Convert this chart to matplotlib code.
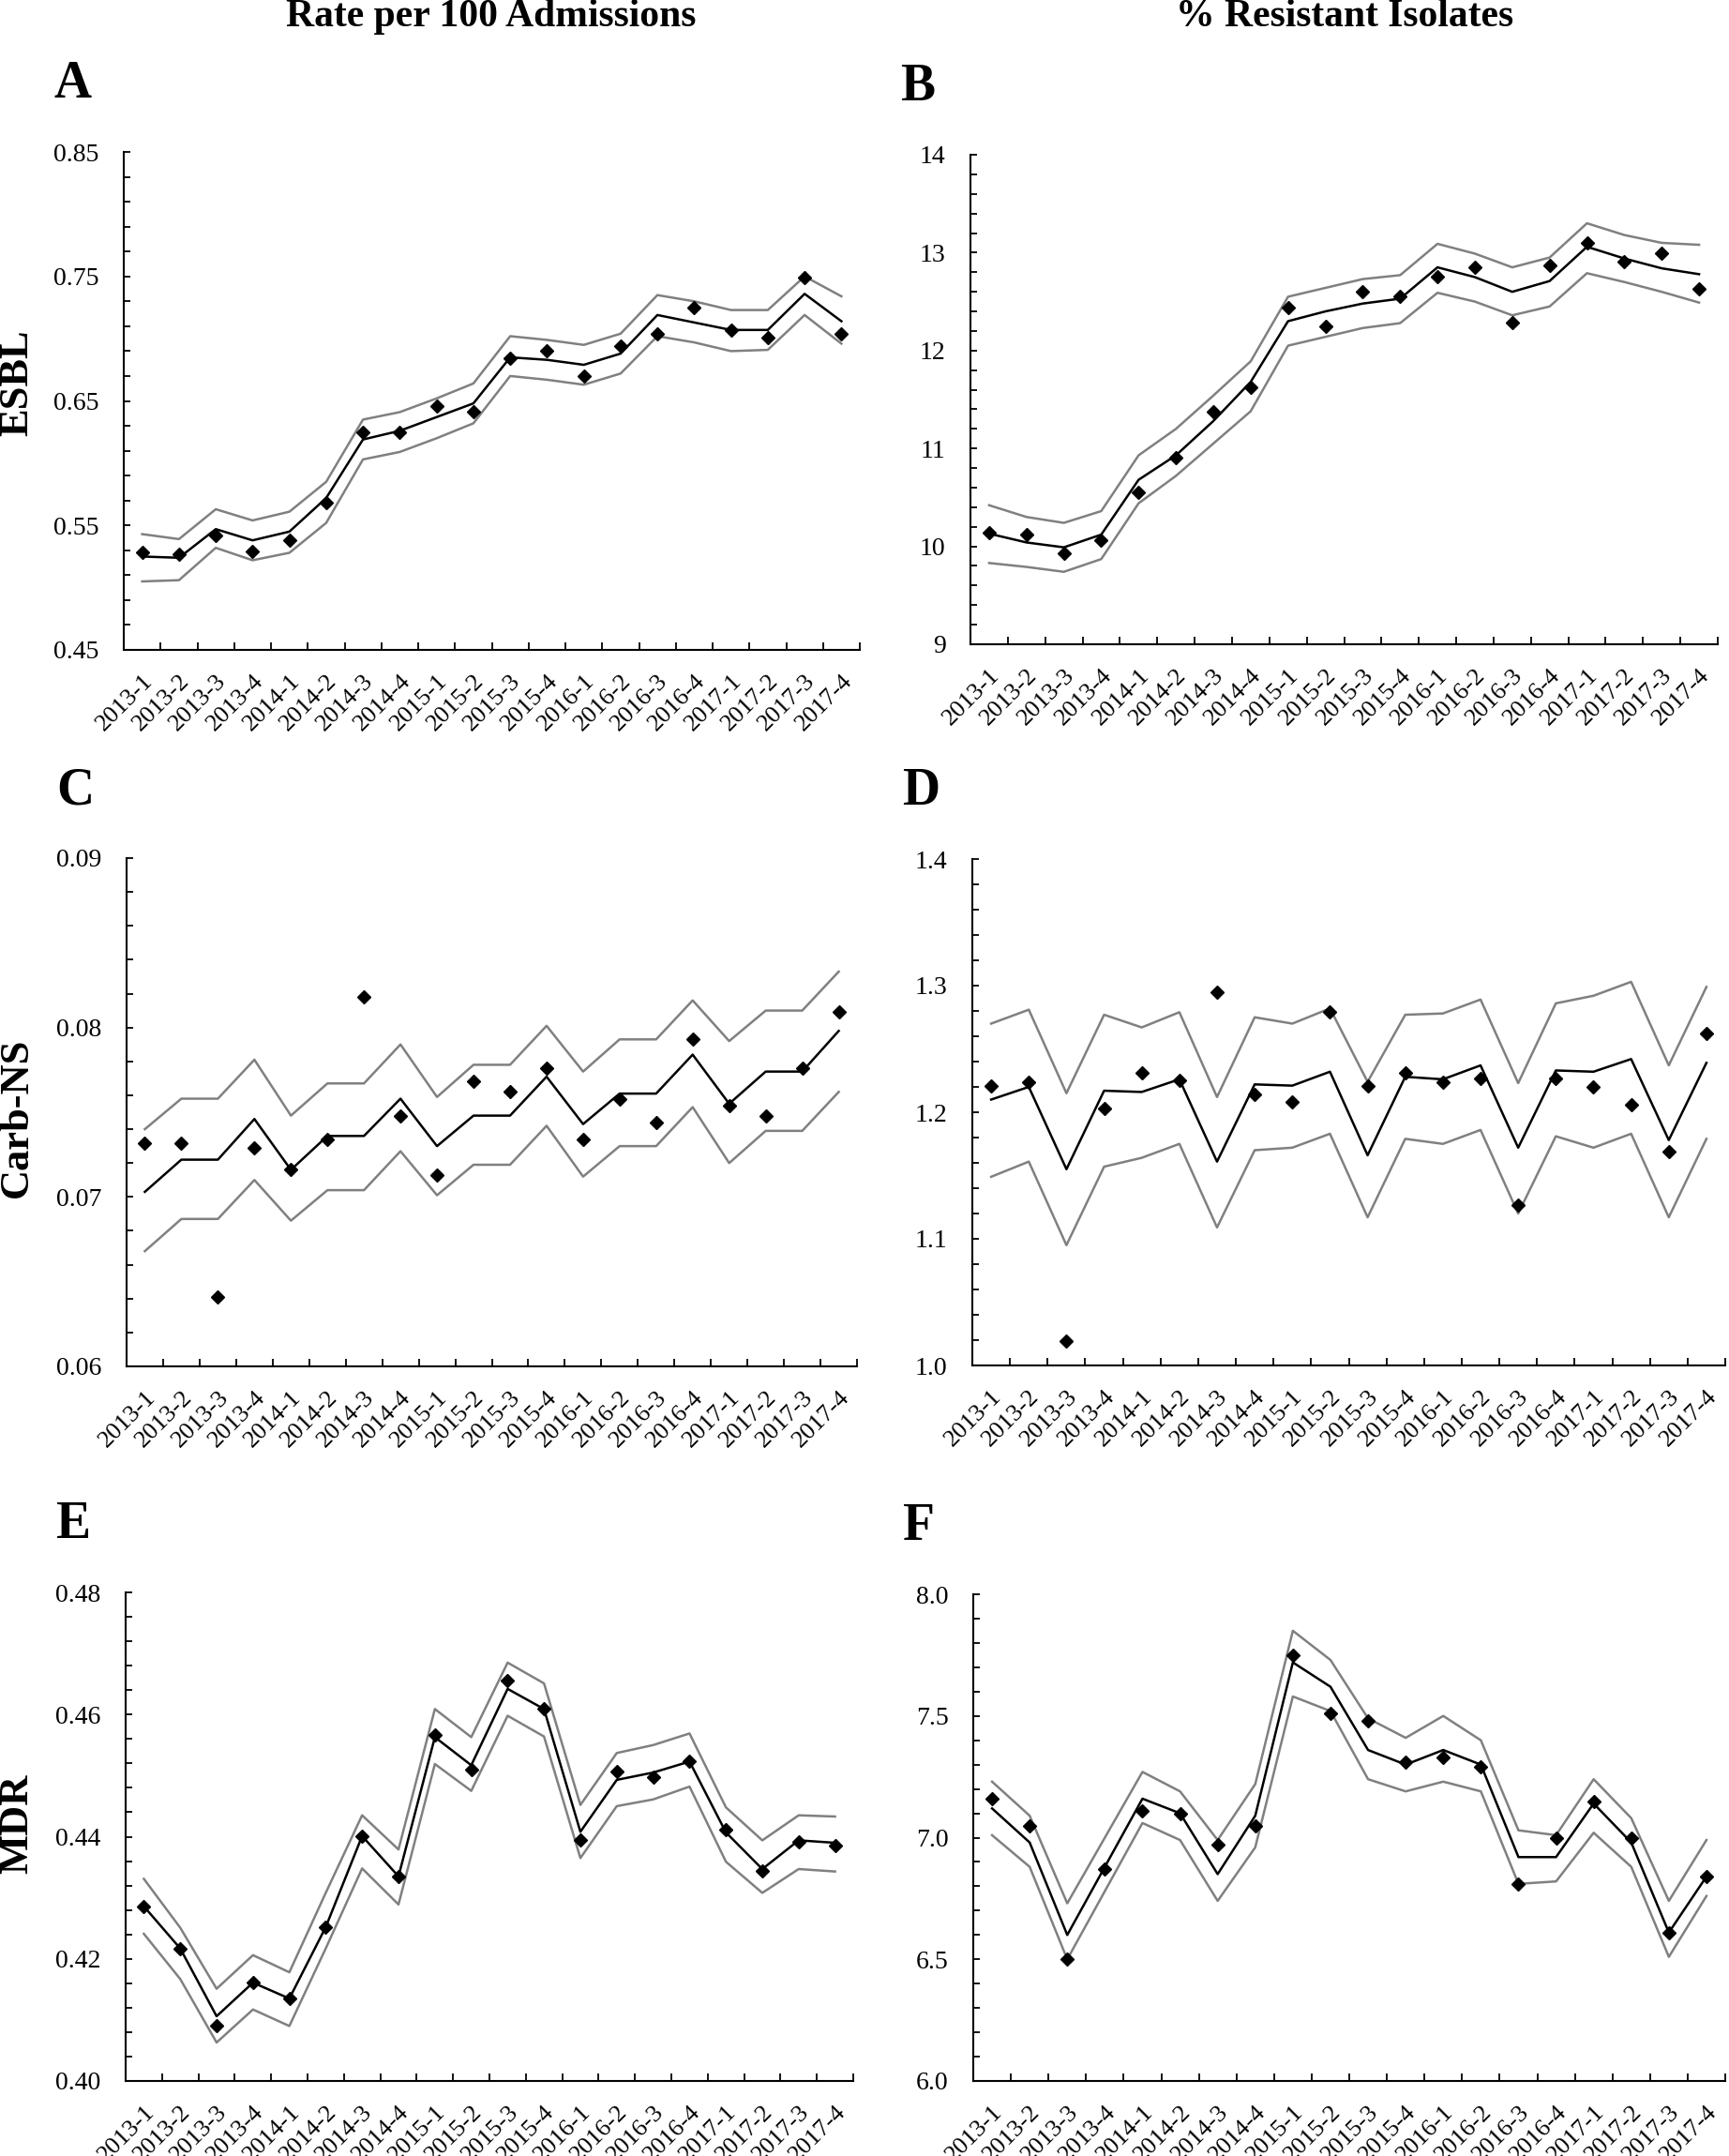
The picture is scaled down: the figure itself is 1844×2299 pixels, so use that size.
import matplotlib
matplotlib.use("Agg")
import numpy as np
import matplotlib.pyplot as plt
from matplotlib.ticker import FormatStrFormatter

plt.rcParams['font.family'] = ['Liberation Serif', 'DejaVu Serif']

quarters = ['2013-1', '2013-2', '2013-3', '2013-4', '2014-1', '2014-2', '2014-3', '2014-4',
            '2015-1', '2015-2', '2015-3', '2015-4', '2016-1', '2016-2', '2016-3', '2016-4',
            '2017-1', '2017-2', '2017-3', '2017-4']

# A - ESBL, rate per 100 admissions
esbl_rate_obs = [0.528, 0.527, 0.542, 0.529, 0.538, 0.568, 0.625, 0.625, 0.646, 0.641,
                 0.684, 0.690, 0.670, 0.694, 0.704, 0.725, 0.707, 0.701, 0.749, 0.704]
esbl_rate_fit = [0.525, 0.524, 0.547, 0.538, 0.545, 0.572, 0.619, 0.626, 0.637, 0.648,
                 0.685, 0.683, 0.679, 0.688, 0.719, 0.713, 0.707, 0.707, 0.736, 0.714]
esbl_rate_hi = [0.543, 0.539, 0.563, 0.554, 0.561, 0.585, 0.635, 0.641, 0.652, 0.664,
                0.702, 0.699, 0.695, 0.704, 0.735, 0.730, 0.723, 0.723, 0.750, 0.734]
esbl_rate_lo = [0.505, 0.506, 0.532, 0.522, 0.528, 0.552, 0.603, 0.609, 0.620, 0.632,
                0.670, 0.667, 0.663, 0.672, 0.702, 0.697, 0.690, 0.691, 0.719, 0.696]

# B - ESBL, % resistant isolates
esbl_pct_obs = [10.14, 10.12, 9.93, 10.06, 10.55, 10.91, 11.38, 11.62, 12.44, 12.25,
                12.60, 12.55, 12.75, 12.85, 12.29, 12.87, 13.10, 12.91, 12.99, 12.63]
esbl_pct_fit = [10.13, 10.04, 9.99, 10.12, 10.68, 10.93, 11.28, 11.68, 12.30, 12.40,
                12.48, 12.53, 12.85, 12.75, 12.60, 12.71, 13.06, 12.94, 12.84, 12.78]
esbl_pct_hi = [10.42, 10.30, 10.24, 10.36, 10.93, 11.20, 11.54, 11.89, 12.55, 12.64,
               12.73, 12.77, 13.09, 12.99, 12.85, 12.95, 13.30, 13.18, 13.10, 13.08]
esbl_pct_lo = [9.83, 9.79, 9.74, 9.87, 10.44, 10.72, 11.05, 11.38, 12.05, 12.14,
               12.23, 12.28, 12.59, 12.50, 12.36, 12.45, 12.79, 12.70, 12.60, 12.49]

# C - Carb-NS, rate per 100 admissions
carb_rate_obs = [0.0732, 0.0732, 0.0641, 0.0729, 0.0716, 0.0734, 0.0818, 0.0748, 0.0713, 0.0768,
                 0.0762, 0.0776, 0.0734, 0.0758, 0.0744, 0.0793, 0.0754, 0.0748, 0.0776, 0.0809]
carb_rate_fit = [0.0703, 0.0722, 0.0722, 0.0746, 0.0716, 0.0736, 0.0736, 0.0758, 0.0730, 0.0748,
                 0.0748, 0.0771, 0.0743, 0.0761, 0.0761, 0.0784, 0.0755, 0.0774, 0.0774, 0.0798]
carb_rate_hi = [0.0740, 0.0758, 0.0758, 0.0781, 0.0748, 0.0767, 0.0767, 0.0790, 0.0759, 0.0778,
                0.0778, 0.0801, 0.0774, 0.0793, 0.0793, 0.0816, 0.0792, 0.0810, 0.0810, 0.0833]
carb_rate_lo = [0.0668, 0.0687, 0.0687, 0.0710, 0.0686, 0.0704, 0.0704, 0.0727, 0.0701, 0.0719,
                0.0719, 0.0742, 0.0712, 0.0730, 0.0730, 0.0753, 0.0720, 0.0739, 0.0739, 0.0762]

# D - Carb-NS, % resistant isolates
carb_pct_obs = [1.221, 1.224, 1.019, 1.203, 1.231, 1.225, 1.295, 1.214, 1.208, 1.279,
                1.221, 1.231, 1.224, 1.227, 1.127, 1.227, 1.220, 1.206, 1.169, 1.262]
carb_pct_fit = [1.210, 1.220, 1.155, 1.217, 1.216, 1.226, 1.161, 1.222, 1.221, 1.232,
                1.166, 1.228, 1.226, 1.237, 1.172, 1.233, 1.232, 1.242, 1.178, 1.239]
carb_pct_hi = [1.270, 1.281, 1.215, 1.277, 1.267, 1.279, 1.212, 1.275, 1.270, 1.282,
               1.224, 1.277, 1.278, 1.289, 1.223, 1.286, 1.292, 1.303, 1.237, 1.299]
carb_pct_lo = [1.149, 1.161, 1.095, 1.157, 1.164, 1.175, 1.109, 1.170, 1.172, 1.183,
               1.117, 1.179, 1.175, 1.186, 1.120, 1.181, 1.172, 1.183, 1.117, 1.179]

# E - MDR, rate per 100 admissions
mdr_rate_obs = [0.4286, 0.4217, 0.4091, 0.4161, 0.4135, 0.4252, 0.4401, 0.4335, 0.4566, 0.4510,
                0.4655, 0.4609, 0.4395, 0.4507, 0.4498, 0.4523, 0.4411, 0.4344, 0.4391, 0.4386]
mdr_rate_fit = [0.4286, 0.4217, 0.4106, 0.4161, 0.4135, 0.4252, 0.4401, 0.4335, 0.4563, 0.4517,
                0.4642, 0.4609, 0.4408, 0.4493, 0.4505, 0.4523, 0.4407, 0.4347, 0.4394, 0.4390]
mdr_rate_hi = [0.4331, 0.4251, 0.4151, 0.4206, 0.4178, 0.4308, 0.4435, 0.4379, 0.4609, 0.4563,
               0.4685, 0.4651, 0.4452, 0.4537, 0.4550, 0.4569, 0.4448, 0.4394, 0.4435, 0.4433]
mdr_rate_lo = [0.4241, 0.4167, 0.4063, 0.4117, 0.4090, 0.4217, 0.4348, 0.4289, 0.4519, 0.4475,
               0.4598, 0.4564, 0.4365, 0.4450, 0.4461, 0.4482, 0.4359, 0.4308, 0.4347, 0.4343]

# F - MDR, % resistant isolates
mdr_pct_obs = [7.16, 7.05, 6.50, 6.87, 7.11, 7.10, 6.97, 7.05, 7.75, 7.51,
               7.48, 7.31, 7.33, 7.29, 6.81, 7.00, 7.15, 7.00, 6.61, 6.84]
mdr_pct_fit = [7.12, 6.98, 6.60, 6.88, 7.16, 7.10, 6.85, 7.09, 7.72, 7.62,
               7.36, 7.30, 7.36, 7.30, 6.92, 6.92, 7.14, 6.98, 6.61, 6.84]
mdr_pct_hi = [7.23, 7.09, 6.73, 7.00, 7.27, 7.19, 6.99, 7.22, 7.85, 7.73,
              7.49, 7.41, 7.50, 7.40, 7.03, 7.01, 7.24, 7.08, 6.74, 6.99]
mdr_pct_lo = [7.01, 6.88, 6.50, 6.78, 7.06, 6.99, 6.74, 6.96, 7.58, 7.52,
              7.24, 7.19, 7.23, 7.19, 6.81, 6.82, 7.02, 6.88, 6.51, 6.76]

W, H = 1844, 2299
fig = plt.figure(figsize=(W / 100, H / 100), dpi=100)


def add_panel(box, letter, obs, fit, hi, lo, ylim, major, minor, fmt):
    left, right, top, bottom = box
    ax = fig.add_axes([left / W, 1 - bottom / H, (right - left) / W, (bottom - top) / H])
    x = list(range(len(quarters)))
    ax.plot(x, hi, color='#808080', lw=1.8)
    ax.plot(x, lo, color='#808080', lw=1.8)
    ax.plot(x, fit, color='black', lw=1.8)
    ax.plot(x, obs, 'D', color='black', ms=7.5, ls='none')

    ax.set_xlim(-0.5, len(quarters) - 0.5)
    ax.set_ylim(*ylim)
    # ticks counted from the bottom of the axis, like the original
    ax.set_yticks(np.round(np.arange(ylim[0], ylim[1] + minor / 2, major), 5))
    ax.set_yticks(np.round(np.arange(ylim[0], ylim[1] + minor / 2, minor), 5), minor=True)
    ax.yaxis.set_major_formatter(FormatStrFormatter(fmt))
    ax.tick_params(axis='y', which='both', direction='in', length=5, width=1.3,
                   labelsize=20, pad=19)

    # tick marks between categories, labels at category centres
    ax.set_xticks([i + 0.5 for i in x])
    ax.set_xticklabels([])
    ax.set_xticks(x, minor=True)
    ax.set_xticklabels(quarters, minor=True, rotation=45, ha='right',
                       rotation_mode='anchor', fontsize=19)
    ax.tick_params(axis='x', which='major', direction='in', length=6, width=1.3)
    ax.tick_params(axis='x', which='minor', length=0, pad=16)

    for s in ['top', 'right']:
        ax.spines[s].set_visible(False)
    for s in ['left', 'bottom']:
        ax.spines[s].set_linewidth(1.5)

    fig.text((left - 75) / W, 1 - (top - 72) / H, letter, fontsize=40,
             fontweight='bold', ha='left', va='center')
    return ax


add_panel((132, 917, 162, 693), 'A', esbl_rate_obs, esbl_rate_fit, esbl_rate_hi, esbl_rate_lo,
          (0.45, 0.85), 0.1, 0.02, '%.2f')
add_panel((1035, 1832, 165, 687), 'B', esbl_pct_obs, esbl_pct_fit, esbl_pct_hi, esbl_pct_lo,
          (9, 14), 1, 0.2, '%d')
add_panel((135, 914, 915, 1457), 'C', carb_rate_obs, carb_rate_fit, carb_rate_hi, carb_rate_lo,
          (0.06, 0.09), 0.01, 0.002, '%.2f')
add_panel((1037, 1840, 916, 1456), 'D', carb_pct_obs, carb_pct_fit, carb_pct_hi, carb_pct_lo,
          (1.0, 1.4), 0.1, 0.02, '%.1f')
add_panel((134, 910, 1698, 2219), 'E', mdr_rate_obs, mdr_rate_fit, mdr_rate_hi, mdr_rate_lo,
          (0.40, 0.48), 0.02, 0.004, '%.2f')
add_panel((1038, 1840, 1700, 2219), 'F', mdr_pct_obs, mdr_pct_fit, mdr_pct_hi, mdr_pct_lo,
          (6.0, 8.0), 0.5, 0.1, '%.1f')

# column headings
fig.text(524 / W, 1 - 18 / H, 'Rate per 100 Admissions', fontsize=30, fontweight='bold',
         ha='center', va='center')
fig.text(1434 / W, 1 - 18 / H, '% Resistant Isolates', fontsize=30, fontweight='bold',
         ha='center', va='center')

# row labels
for label, yc in [('ESBL', 408), ('Carb-NS', 1192), ('MDR', 1945)]:
    fig.text(18 / W, 1 - yc / H, label, fontsize=32, fontweight='bold', rotation=90,
             ha='center', va='center')

fig.savefig('out.png', dpi=100)
